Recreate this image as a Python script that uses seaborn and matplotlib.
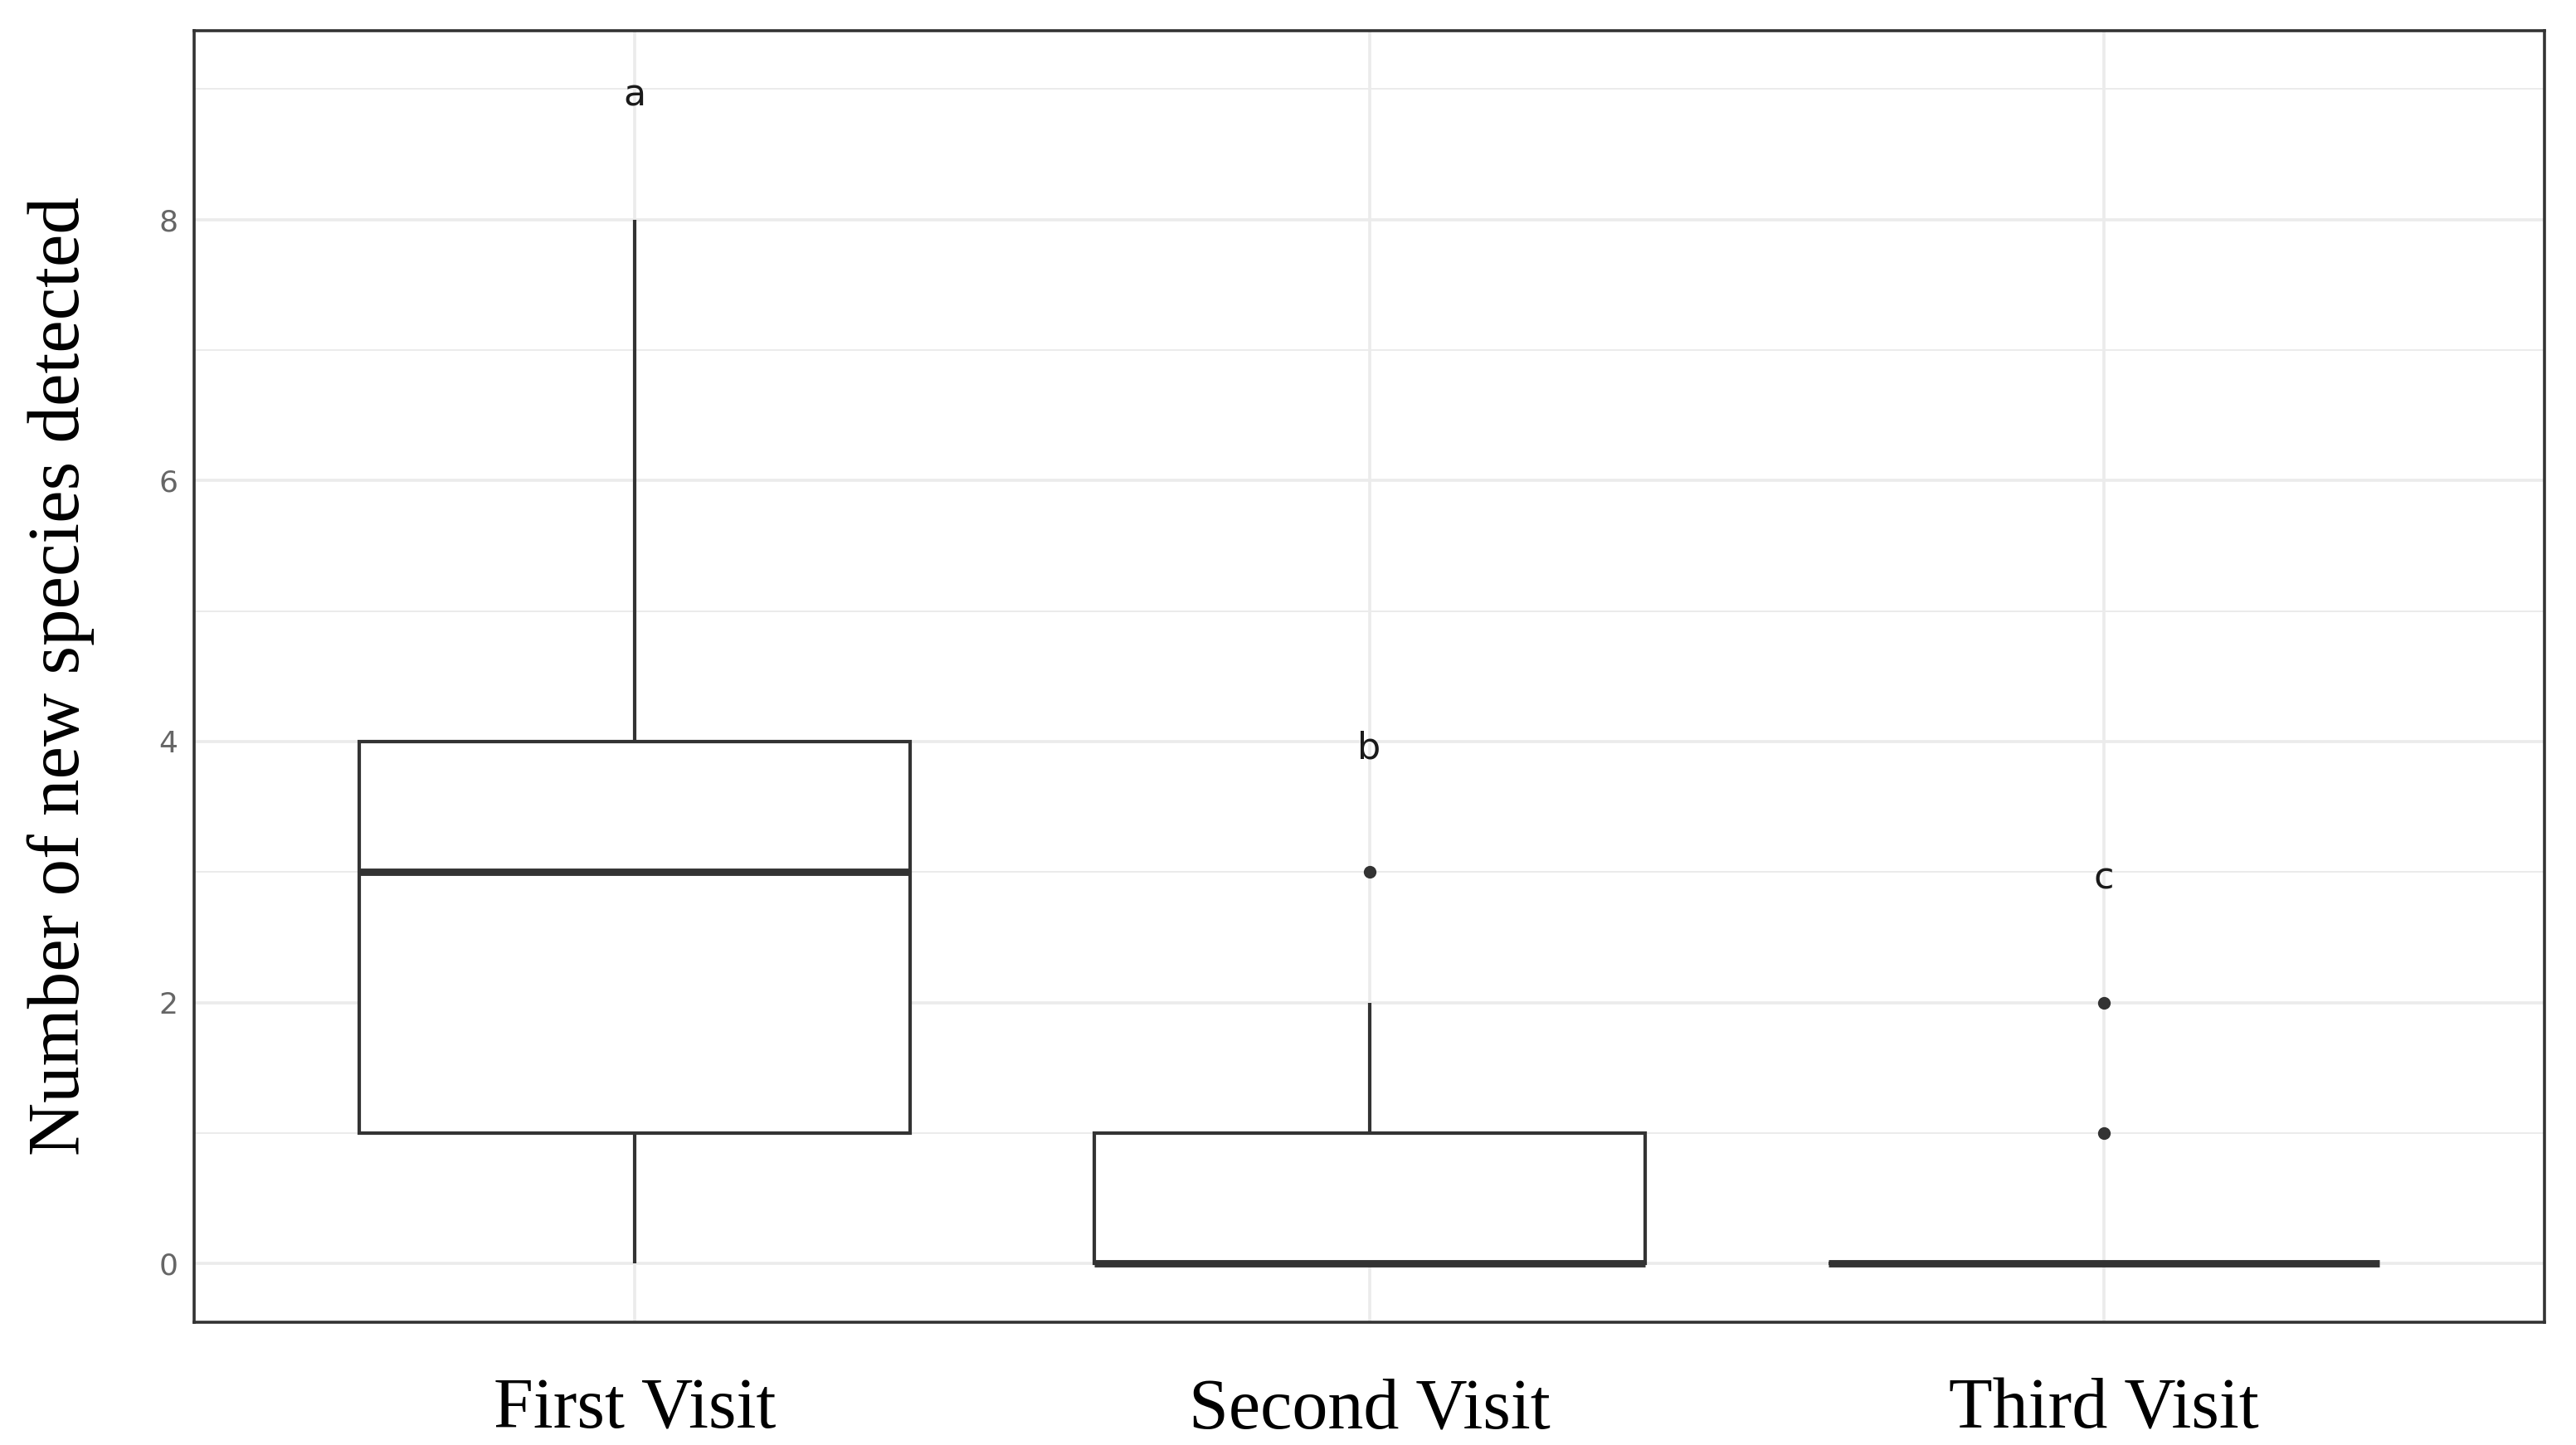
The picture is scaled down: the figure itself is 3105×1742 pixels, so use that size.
import pandas as pd
import matplotlib.pyplot as plt
import seaborn as sns

visits = ["First Visit", "Second Visit", "Third Visit"]
first_visit = [0, 1, 1, 2, 3, 4, 4, 6, 8]
second_visit = [0, 0, 0, 0, 0, 1, 1, 2, 3]
third_visit = [0, 0, 0, 0, 0, 0, 0, 1, 2]

# significance letters and their heights
letters = ["a", "b", "c"]
letter_y = [9, 4, 3]

y_ticks = [0, 2, 4, 6, 8]
y_minor = [1, 3, 5, 7, 9]

df = pd.DataFrame({
    "visit": [visits[0]] * len(first_visit) + [visits[1]] * len(second_visit) + [visits[2]] * len(third_visit),
    "count": first_visit + second_visit + third_visit,
})

sns.set_style("white")
dark = "#333333"

fig = plt.figure(figsize=(15.525, 8.71), dpi=200)
ax = fig.add_axes([0.0754, 0.085, 0.9124, 0.894])

ax.set_axisbelow(True)
sns.boxplot(
    data=df, x="visit", y="count", order=visits,
    color="white", linecolor=dark, linewidth=1.5, width=0.75,
    showcaps=False, whis=1.5, fliersize=4.5,
    medianprops=dict(linewidth=3.2, color=dark),
    flierprops=dict(marker="o", markerfacecolor=dark, markeredgecolor=dark),
    ax=ax,
)

for i, (lab, yy) in enumerate(zip(letters, letter_y)):
    ax.text(i, yy - 0.05, lab, ha="center", va="center", fontsize=16, color="#1a1a1a")

ax.set_xlim(-0.6, 2.6)
ax.set_ylim(-0.45, 9.45)
ax.set_yticks(y_ticks)
ax.set_yticks(y_minor, minor=True)
ax.grid(True, which="major", color="#EBEBEB", linewidth=1.3)
ax.grid(True, which="minor", axis="y", color="#EBEBEB", linewidth=0.7)
ax.tick_params(axis="y", which="minor", length=0)
ax.tick_params(axis="both", which="major", length=4, width=1.2, color=dark, direction="out")
ax.tick_params(axis="y", labelsize=13, labelcolor="#666666", pad=3)
ax.tick_params(axis="x", labelsize=31, pad=20)
for lab in ax.get_xticklabels():
    lab.set_family("Liberation Serif")
    lab.set_color("black")

for s in ax.spines.values():
    s.set_color(dark)
    s.set_linewidth(1.3)

ax.set_xlabel("")
ax.set_ylabel("Number of new species detected", family="Liberation Serif", fontsize=32,
              labelpad=28, color="black")

fig.savefig("out.png", dpi=200)
